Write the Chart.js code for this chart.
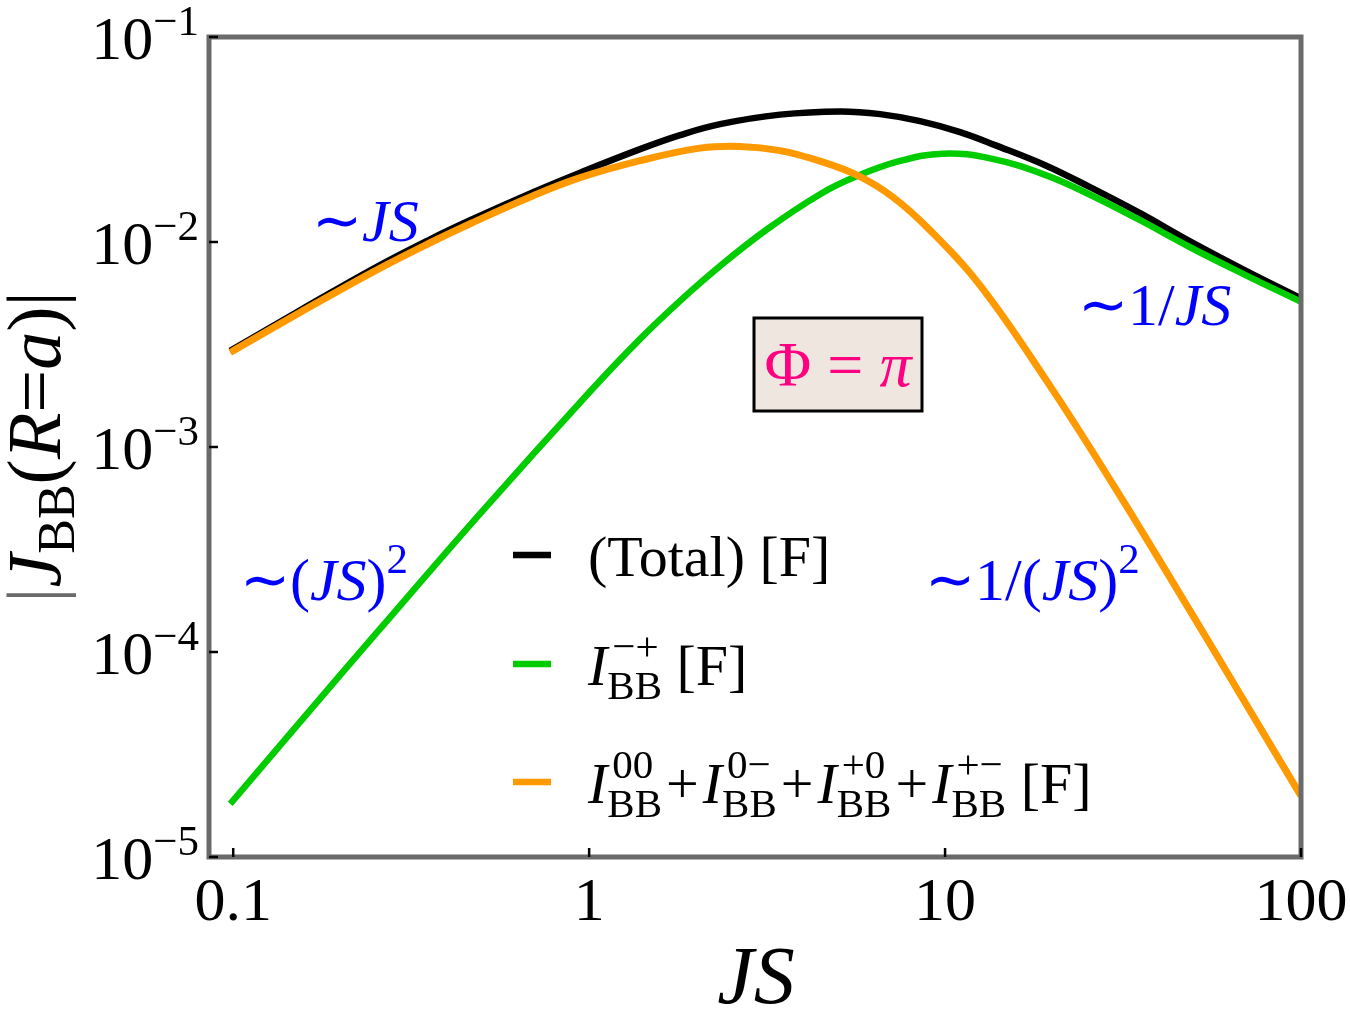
<!DOCTYPE html>
<html>
<head>
<meta charset="utf-8">
<script src="https://cdn.jsdelivr.net/npm/chart.js@4.4.0/dist/chart.umd.min.js"></script>
<style>
  html, body { margin: 0; padding: 0; background: #fff; }
</style>
</head>
<body>
<canvas id="jbbChart" width="1350" height="1018"></canvas>
<script>
// Values (log-log)
const totalX = [0.0981, 0.1542, 0.2473, 0.3575, 0.463, 0.6962, 0.9435, 1.391, 1.801, 2.333, 3.44, 5.073, 6.569, 8.506, 11.02, 13.82, 19.1, 25.54, 35.3, 48.78, 69.62, 100];
const totalY = [2.944e-3, 4.642e-3, 7.401e-3, 0.01031, 0.01277, 0.0175, 0.02179, 0.02838, 0.03322, 0.03759, 0.04182, 0.04336, 0.04206, 0.03888, 0.03436, 0.02969, 0.0237, 0.01851, 0.01382, 0.01008, 7.278e-3, 5.313e-3];

const minusPlusX = [0.0981, 0.1542, 0.2588, 0.494, 1.0, 1.391, 1.801, 2.333, 3.162, 4.455, 5.659, 7.474, 9.872, 13.38, 19.1, 25.54, 35.3, 48.78, 69.62, 100];
const minusPlusY = [1.815e-5, 4.564e-5, 1.299e-4, 4.734e-4, 1.845e-3, 3.369e-3, 5.166e-3, 7.638e-3, 0.01154, 0.01711, 0.02097, 0.02485, 0.02698, 0.02559, 0.02126, 0.01701, 0.01277, 9.428e-3, 6.918e-3, 5.107e-3];

const restX = [0.0981, 0.1542, 0.2473, 0.3575, 0.463, 0.6962, 0.9435, 1.391, 2.05, 2.656, 3.44, 4.455, 5.659, 7.143, 9.075, 12.54, 19.34, 29.65, 42.86, 65.27, 100];
const restY = [2.893e-3, 4.538e-3, 7.156e-3, 9.915e-3, 0.01228, 0.01682, 0.0206, 0.02493, 0.0287, 0.02925, 0.0279, 0.02479, 0.02118, 0.01654, 0.01141, 6.147e-3, 2.089e-3, 6.559e-4, 2.305e-4, 6.841e-5, 1.986e-5];

const xTicks = [0.1, 1, 10, 100];
const xTickLabels = ['0.1', '1', '10', '100'];
const yTicks = [1e-5, 1e-4, 1e-3, 1e-2, 1e-1];
const yTickExponents = ['\u22125', '\u22124', '\u22123', '\u22122', '\u22121'];

const BLUE = '#0000ff';
const PINK = '#ff0080';

function toPoints(xs, ys) {
    return xs.map((x, i) => ({ x: x, y: ys[i] }));
}

function font(size, italic) {
    return (italic ? 'italic ' : '') + size + 'px "Liberation Serif", "Times New Roman", serif';
}

// width of one text run (plain, or stacked sub/superscript)
function runWidth(ctx, r, base) {
    const size = r.s || base;
    if (r.sub != null || r.sup != null) {
        ctx.font = font(size, false);
        const a = r.sub ? ctx.measureText(r.sub).width : 0;
        const b = r.sup ? ctx.measureText(r.sup).width + (r.supDx || 0) : 0;
        return Math.max(a, b) + (r.gap || 0);
    }
    ctx.font = font(size, r.i);
    return ctx.measureText(r.t).width + (r.gap || 0);
}

function drawRich(ctx, runs, x, y, base, color, align) {
    const total = runs.reduce((w, r) => w + runWidth(ctx, r, base), 0);
    let cx = align === 'right' ? x - total : align === 'center' ? x - total / 2 : x;
    ctx.textAlign = 'left';
    ctx.textBaseline = 'alphabetic';
    runs.forEach(r => {
        const size = r.s || base;
        const w = runWidth(ctx, r, base);
        ctx.fillStyle = r.c || color;
        if (r.sub != null || r.sup != null) {
            ctx.font = font(size, false);
            if (r.sup) ctx.fillText(r.sup, cx + (r.supDx || 0), y + (r.supDy != null ? r.supDy : -0.42 * base));
            if (r.sub) ctx.fillText(r.sub, cx, y + (r.subDy != null ? r.subDy : 0.24 * base));
        } else {
            ctx.font = font(size, r.i);
            ctx.fillText(r.t, cx + (r.dx || 0), y + (r.dy || 0));
        }
        cx += w;
    });
}

// I_BB with superscript pair, as used in the legend
function iBB(sup) {
    return [{ t: 'I', i: true }, { sub: 'BB', sup: sup, s: 41, subDy: 14, supDy: -25, supDx: 5 }];
}
const plusRun = { t: '+', dx: 4, gap: 8 };

// frame, ticks, labels, legend and annotations
const decorPlugin = {
    id: 'decor',
    afterDatasetsDraw(chart) {
        const ctx = chart.ctx;
        const area = chart.chartArea;
        const xs = chart.scales.x;
        const ys = chart.scales.y;

        ctx.save();
        // frame
        ctx.strokeStyle = '#6a6a6a';
        ctx.lineWidth = 5;
        ctx.strokeRect(area.left, area.top, area.right - area.left, area.bottom - area.top);

        // tick marks
        ctx.strokeStyle = '#000';
        ctx.lineWidth = 2.5;
        xTicks.forEach(v => {
            const px = xs.getPixelForValue(v);
            ctx.beginPath();
            ctx.moveTo(px, area.bottom);
            ctx.lineTo(px, area.bottom - 9);
            ctx.stroke();
        });
        yTicks.forEach(v => {
            const py = ys.getPixelForValue(v);
            ctx.beginPath();
            ctx.moveTo(area.left, py);
            ctx.lineTo(area.left + 9, py);
            ctx.stroke();
        });

        // tick labels
        xTicks.forEach((v, i) => {
            drawRich(ctx, [{ t: xTickLabels[i] }], xs.getPixelForValue(v), 920, 62, '#000', 'center');
        });
        yTicks.forEach((v, i) => {
            const py = ys.getPixelForValue(v);
            drawRich(ctx, [{ t: '10' }, { t: yTickExponents[i], s: 43, dy: -24 }], 199, py + 22, 62, '#000', 'right');
        });

        // axis titles
        drawRich(ctx, [{ t: 'JS', i: true }], 756, 1003, 82, '#000', 'center');
        ctx.save();
        ctx.translate(60, 447);
        ctx.rotate(-Math.PI / 2);
        drawRich(ctx, [
            { t: '|', c: '#6a6a6a' }, { t: 'J', i: true }, { t: 'BB', s: 52, dy: 14 },
            { t: '(' }, { t: 'R', i: true }, { t: '=' }, { t: 'a', i: true }, { t: ')' }, { t: '|' }
        ], 0, 0, 76, '#000', 'center');
        ctx.restore();

        // legend
        const legendRows = [
            { color: '#000', y: 555, runs: [{ t: '(Total) [F]' }] },
            { color: '#00cc00', y: 664, runs: iBB('\u2212+').concat([{ t: ' [F]' }]) },
            { color: '#ff9900', y: 782, runs: [].concat(
                iBB('00'), [plusRun], iBB('0\u2212'), [plusRun],
                iBB('+0'), [plusRun], iBB('+\u2212'), [{ t: ' [F]' }]) }
        ];
        legendRows.forEach(row => {
            ctx.strokeStyle = row.color;
            ctx.lineWidth = 6.5;
            ctx.beginPath();
            ctx.moveTo(513, row.y);
            ctx.lineTo(551, row.y);
            ctx.stroke();
            drawRich(ctx, row.runs, 588, row.y + 21, 58, '#000', 'left');
        });

        // asymptotic annotations
        drawRich(ctx, [{ t: '\u223C' }, { t: 'JS', i: true }], 312, 241, 60, BLUE, 'left');
        drawRich(ctx, [{ t: '\u223C1/' }, { t: 'JS', i: true }], 1078, 325, 60, BLUE, 'left');
        drawRich(ctx, [{ t: '\u223C(' }, { t: 'JS', i: true }, { t: ')' }, { t: '2', s: 43, dy: -27 }], 240, 600, 60, BLUE, 'left');
        drawRich(ctx, [{ t: '\u223C1/(' }, { t: 'JS', i: true }, { t: ')' }, { t: '2', s: 43, dy: -27 }], 925, 600, 60, BLUE, 'left');

        // phase box
        ctx.fillStyle = '#efe6e0';
        ctx.fillRect(754, 318, 168, 93);
        ctx.strokeStyle = '#000';
        ctx.lineWidth = 3;
        ctx.strokeRect(754, 318, 168, 93);
        drawRich(ctx, [{ t: '\u03A6 = ' }, { t: '\u03C0', i: true }], 838, 386, 64, PINK, 'center');

        ctx.restore();
    }
};

const chartCanvas = document.getElementById('jbbChart');
new Chart(chartCanvas, {
    type: 'line',
    data: {
        datasets: [
            { label: '(Total) [F]', data: toPoints(totalX, totalY), borderColor: '#000000', borderWidth: 6.5, order: 2 },
            { label: 'I_BB^-+ [F]', data: toPoints(minusPlusX, minusPlusY), borderColor: '#00cc00', borderWidth: 6.5, order: 1 },
            { label: 'I_BB^00+I_BB^0-+I_BB^+0+I_BB^+- [F]', data: toPoints(restX, restY), borderColor: '#ff9900', borderWidth: 7, order: 0 }
        ]
    },
    options: {
        responsive: false,
        animation: false,
        devicePixelRatio: 1,
        layout: { padding: { left: 209, right: 49, top: 37, bottom: 161 } },
        plugins: { legend: { display: false }, tooltip: { enabled: false } },
        elements: {
            point: { radius: 0 },
            line: { tension: 0.4, fill: false, borderCapStyle: 'butt' }
        },
        scales: {
            x: { type: 'logarithmic', min: 0.0855, max: 100, display: false },
            y: { type: 'logarithmic', min: 1e-5, max: 1e-1, display: false }
        }
    },
    plugins: [decorPlugin]
});
</script>
</body>
</html>
